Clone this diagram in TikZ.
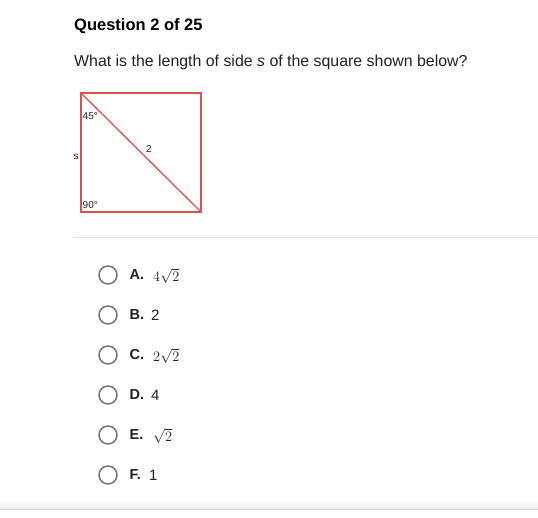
\documentclass[tikz,border=0pt]{standalone}
\usepackage{fontspec}
\setmainfont{Liberation Sans}
\definecolor{sqred}{HTML}{D95252}
\definecolor{circ}{HTML}{6E6E6E}
\definecolor{txt}{HTML}{222222}
\definecolor{rule}{HTML}{E6E6E6}
\tikzset{
  opt/.style={circle,draw=circ,line width=1.4pt,minimum size=18pt,inner sep=0pt},
  lbl/.style={anchor=west,inner sep=0pt,font=\fontsize{14.5}{14.5}\selectfont\bfseries,text=txt},
  val/.style={anchor=west,inner sep=0pt,font=\fontsize{15}{15}\selectfont,text=txt},
  sval/.style={anchor=west,inner sep=0pt,font=\fontsize{13.5}{13.5}\selectfont,text=txt},
  small/.style={inner sep=0pt,font=\fontsize{10}{10}\selectfont,text=txt}
}
\begin{document}
\begin{tikzpicture}[x=1pt,y=-1pt]
\useasboundingbox[fill=white] (0,0) rectangle (538,518);
\node[anchor=base west,inner sep=0pt,font=\fontsize{16.5}{16.5}\selectfont\bfseries,text=black] (title) at (74,31) {Question 2 of 25};
\node[anchor=base west,inner sep=0pt,font=\fontsize{15.9}{15.9}\selectfont,text=txt] (q) at (74,67) {What is the length of side \textit{s} of the square shown below?};
% square
\coordinate (tl) at (81,93);
\coordinate (br) at (201,212);
\draw[sqred,line width=1.3pt] (tl) rectangle (br);
\draw[sqred,line width=1.3pt] (tl) -- (br);
\node[small,anchor=west] (a45) at (82.5,116) {45°};
\node[small] (two) at (149,149) {2};
\node[small] (s) at (76,157) {s};
\node[small,anchor=west] (a90) at (82.5,205) {90°};
% separator
\draw[rule,line width=1pt] (73,238) -- (538,238);
% options
\node[opt] (oa) at (108,275) {};
\node[lbl] (la) at (129.5,275) {A.};
\node[sval] (va) at (153,276) {$4\sqrt{2}$};
\node[opt] (ob) at (108,315) {};
\node[lbl] (lb) at (129.5,315) {B.};
\node[val] (vb) at (151,315) {2};
\node[opt] (oc) at (108,355) {};
\node[lbl] (lc) at (129.5,355) {C.};
\node[sval] (vc) at (153,356) {$2\sqrt{2}$};
\node[opt] (od) at (108,395) {};
\node[lbl] (ld) at (129.5,395) {D.};
\node[val] (vd) at (151,395) {4};
\node[opt] (oe) at (108,435) {};
\node[lbl] (le) at (129.5,435) {E.};
\node[sval] (ve) at (153,436) {$\sqrt{2}$};
\node[opt] (of) at (108,475) {};
\node[lbl] (lf) at (129.5,475) {F.};
\node[val] (vf) at (149,475) {1};
% bottom band
\shade[top color=white,bottom color=black!6] (0,498) rectangle (538,509);
\draw[black!15,line width=1pt] (0,509) -- (538,509);
\end{tikzpicture}
\end{document}
